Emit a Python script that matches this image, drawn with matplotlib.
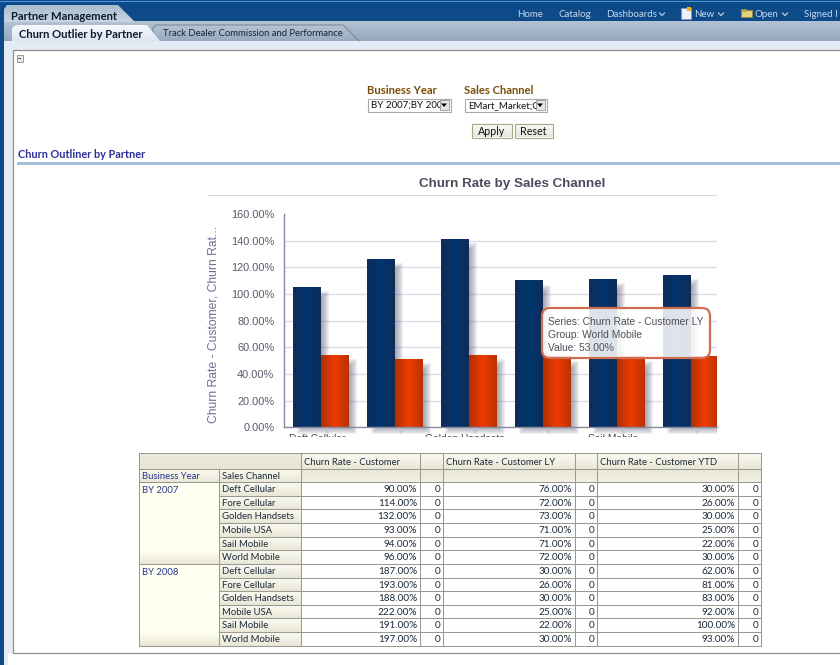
import numpy as np
import matplotlib
matplotlib.use("Agg")
import matplotlib.pyplot as plt
from matplotlib.patches import Rectangle, FancyBboxPatch, Polygon
from matplotlib.transforms import Bbox
from matplotlib.colors import LinearSegmentedColormap

# ---------- data ----------
channels = ["Deft Cellular", "Fore Cellular", "Golden Handsets", "Mobile USA", "Sail Mobile", "World Mobile"]
chart_customer = [105.0, 126.0, 141.0, 110.0, 111.0, 114.0]
chart_customer_ly = [54.0, 51.0, 54.0, 53.0, 53.0, 53.0]
y_ticks = [0, 20, 40, 60, 80, 100, 120, 140, 160]
shown_channels = ["Deft Cellular", "Golden Handsets", "Sail Mobile"]

years = ["BY 2007", "BY 2008"]
table_customer = [90, 114, 132, 93, 94, 96, 187, 193, 188, 222, 191, 197]
table_ly = [76, 72, 73, 71, 71, 72, 30, 26, 30, 25, 22, 30]
table_ytd = [30, 26, 30, 25, 22, 30, 62, 81, 83, 92, 100, 93]
measure_names = ["Churn Rate - Customer", "Churn Rate - Customer LY", "Churn Rate - Customer YTD"]
nav_items = ["Home", "Catalog", "Dashboards", "New", "Open", "Signed I"]

W, H = 840, 665
UI = "Lato"
ARIAL = "Liberation Sans"
def pt(px): return px * 72 / 100

fig = plt.figure(figsize=(W / 100, H / 100), dpi=100, facecolor="white")

# ---------- page chrome, pixel coordinates ----------
bg = fig.add_axes([0, 0, 1, 1], zorder=0)
bg.set_xlim(0, W); bg.set_ylim(H, 0); bg.axis("off")

def vgrad(ax, x0, y0, x1, y1, c0, c1, z=1, clip=None):
    cm = LinearSegmentedColormap.from_list("g", [c0, c1])
    im = ax.imshow(np.linspace(0, 1, 32)[:, None], extent=[x0, x1, y1, y0], cmap=cm,
                   aspect="auto", zorder=z, vmin=0, vmax=1, interpolation="bilinear")
    if clip is not None:
        im.set_clip_path(clip)
    return im

def rect(ax, x0, y0, x1, y1, fc, ec="none", lw=0, z=1):
    r = Rectangle((x0, y0), x1 - x0, y1 - y0, fc=fc, ec=ec, lw=lw, zorder=z)
    ax.add_patch(r)
    return r

rect(bg, 0, 0, W, 22, "#0d4a87")
rect(bg, 0, 1, W, 2.2, "#4f93dc", z=1.1)
rect(bg, 0, 22, 4, H, "#0d4a87")
rect(bg, 4, 41, W, H, "#e3ebf5")
vgrad(bg, 0, 21, W, 41, "#b3c3d4", "#97a8bf")
rect(bg, 0, 21, 4, 41, "#0d4a87", z=1.2)
rect(bg, 8, 653, W, H, "white", z=1.1)

# top tab
p = Polygon([(4, 22), (4, 9), (7, 5), (118, 5), (135, 22)], closed=True, fc="none", ec="none", zorder=2)
bg.add_patch(p)
vgrad(bg, 4, 5, 135, 22, "#a8bccf", "#c8d6e2", z=2, clip=p)
bg.text(11, 16.5, "Partner Management", fontsize=pt(11.3), family=UI, weight="bold", color="#0c1c2c", va="center", zorder=3)

# second row tabs
p2 = Polygon([(153, 41), (153, 28), (156, 25), (343, 25), (359, 41)], closed=True, fc="none", ec="none", zorder=2)
bg.add_patch(p2)
vgrad(bg, 153, 25, 359, 41, "#b6c4d4", "#98a9c0", z=2, clip=p2)
bg.plot([153, 153, 156, 343, 359], [41, 28, 25, 25, 41], color="#6c7a8c", lw=0.6, zorder=2.5)
bg.text(163, 34, "Track Dealer Commission and Performance", fontsize=pt(9.45), family=UI, color="#16253a", va="center", zorder=3)
p1 = Polygon([(12, 41), (12, 28), (16, 25), (147, 25), (160, 41)], closed=True, fc="none", ec="none", zorder=2)
bg.add_patch(p1)
vgrad(bg, 12, 25, 160, 41, "#f6f9fc", "#dce6f1", z=2.6, clip=p1)
bg.text(19, 34, "Churn Outlier by Partner", fontsize=pt(11.3), family=UI, weight="bold", color="#0c1c2c", va="center", zorder=3)

# nav items
nav_x = [517.5, 558.5, 606.5, 694.5, 754.5, 803.5]
for name, x in zip(nav_items, nav_x):
    bg.text(x, 14.5, name, fontsize=pt(9.8), family=UI, color="#c4d8ee", va="center", zorder=3)
for x in [551.5, 599.5, 673.5, 733.5, 796.5]:
    rect(bg, x, 8 if x == 673.5 else 18, x + 0.8, 21, "#9bb6d2", z=2)
for x in [662, 721, 785]:
    bg.plot([x - 2.5, x, x + 2.5], [13, 15.5, 13], color="#b4cce4", lw=0.9, zorder=3)
rect(bg, 681, 8, 691, 19, "#eef0fa", ec="#8b93b8", lw=0.6, z=3)
rect(bg, 687, 7, 691, 11, "#f0b020", z=3.1)
rect(bg, 741, 10, 752, 17, "#e4d27a", ec="#9a8a3c", lw=0.6, z=3)
rect(bg, 741, 8.5, 746, 10.5, "#d0bb5c", ec="#9a8a3c", lw=0.5, z=3)

# content panel
rect(bg, 12.5, 49.5, W + 5, 652.5, "white", ec="#8f8f88", lw=0.9, z=1.5)
rect(bg, 16.5, 55, 22.5, 61.5, "#e8e8e8", ec="#999999", lw=0.7, z=2)
rect(bg, 18, 57.7, 21, 58.7, "#555555", z=2.1)

# prompts
PROMPT = "#7a4e05"
bg.text(367, 90, "Business Year", fontsize=pt(11.3), family=UI, weight="bold", color=PROMPT, va="center", zorder=3)
bg.text(464, 90, "Sales Channel", fontsize=pt(11.3), family=UI, weight="bold", color=PROMPT, va="center", zorder=3)
for x0, x1, txt in [(367.5, 450.5, "BY 2007;BY 200"), (464.5, 546.5, "EMart_Market;C")]:
    rect(bg, x0, 98.5, x1, 111.5, "white", ec="#aaaaaa", lw=0.8, z=2)
    t = bg.text(x0 + 3.5, 105.5, txt, fontsize=pt(9.8), family=UI, color="#111111", va="center", zorder=3)
    t.set_clip_path(rect(bg, x0, 98.5, x1 - 11.5, 111.5, "none", z=2))
    rect(bg, x1 - 11, 100, x1 - 1.5, 110, "#e4e4e0", ec="#888888", lw=0.5, z=3)
    bg.add_patch(Polygon([(x1 - 9.5, 103.5), (x1 - 3.5, 103.5), (x1 - 6.5, 107)], closed=True, fc="black", ec="none", zorder=3.1))
for x0, x1, txt in [(471.5, 511.5, "Apply"), (514.5, 552.5, "Reset")]:
    rect(bg, x0, 123.5, x1, 137.5, "none", ec="#a8a888", lw=0.8, z=3)
    vgrad(bg, x0, 123.5, x1, 137.5, "#fdfdfa", "#e6e6e0", z=2.5)
    bg.text((x0 + x1) / 2, 131.5, txt, fontsize=pt(10.6), family=UI, color="#111111", ha="center", va="center", zorder=3.2)

bg.text(18, 155, "Churn Outliner by Partner", fontsize=pt(11), family=UI, weight="bold", color="#2b2f96", va="center", zorder=3)
rect(bg, 17, 162, W, 165, "#a4bfd9", z=2)

# chart title
bg.text(512, 184, "Churn Rate by Sales Channel", fontsize=pt(13.4), family=ARIAL, weight="bold", color="#4a4c5c", ha="center", va="center", zorder=3)
rect(bg, 208, 194.5, 717, 195.7, "#d8d8e2", z=2)

# ---------- chart ----------
AX_L, AX_R, AX_T, AX_B = 284, 717, 214, 427.3
ax = fig.add_axes([AX_L / W, 1 - AX_B / H, (AX_R - AX_L) / W, (AX_B - AX_T) / H], zorder=2)
ax.patch.set_alpha(0)
CAT_PX = 74.0
ax.set_xlim(-0.5, -0.5 + (AX_R - AX_L) / CAT_PX)
ax.set_ylim(0, 160)
px_x = 1 / CAT_PX
px_y = 160 / (AX_B - AX_T)
xs = np.arange(len(channels))
bw = 0.378
clip_bb = Bbox([[AX_L, H - 436], [AX_R, H - AX_T]])

blue_cm = LinearSegmentedColormap.from_list("b", ["#0f2c58", "#00356f", "#0f2c58"])
red_cm = LinearSegmentedColormap.from_list("r", ["#b03000", "#ef3b00", "#b83200"])

def add_shadow(xc, v):
    for k in range(8):
        r = Rectangle((xc - bw / 2 + (4 + k) * px_x, (-7 + k) * px_y),
                      bw + (4 - 2 * k) * px_x, v + (1 - 2 * k + 2) * px_y,
                      fc="#5a5a78", ec="none", alpha=0.085, zorder=2, clip_on=True)
        ax.add_patch(r)
        r.set_clip_box(clip_bb)

def add_bars(positions, vals, cm):
    bars = ax.bar(positions, vals, width=bw, color="none", zorder=3)
    for b in bars:
        x0, w, h = b.get_x(), b.get_width(), b.get_height()
        im = ax.imshow(np.linspace(0, 1, 64)[None, :], extent=[x0, x0 + w, 0, h], cmap=cm,
                       aspect="auto", zorder=3, interpolation="bilinear", vmin=0, vmax=1)
        im.set_clip_box(ax.bbox)

for x, a, b in zip(xs, chart_customer, chart_customer_ly):
    add_shadow(x - bw / 2, a)
    add_shadow(x + bw / 2, b)
add_bars(xs - bw / 2, chart_customer, blue_cm)
add_bars(xs + bw / 2, chart_customer_ly, red_cm)

ax.set_xlim(-0.5, -0.5 + (AX_R - AX_L) / CAT_PX)
ax.set_ylim(0, 160)
ax.set_yticks(y_ticks)
ax.set_yticklabels([f"{v:.2f}%" for v in y_ticks], fontsize=pt(11.0), family=ARIAL, color="#5a5a6c")
ax.grid(axis="y", color="#dcdce6", lw=1.0, zorder=1)
ax.yaxis.get_gridlines()[-1].set_visible(False)
ax.set_axisbelow(True)
ax.tick_params(axis="both", length=0, pad=7)
for s in ["top", "right"]:
    ax.spines[s].set_visible(False)
for s in ["left", "bottom"]:
    ax.spines[s].set_color("#8a8aa0")
    ax.spines[s].set_linewidth(1.0)
    ax.spines[s].set_zorder(4)
ax.set_xticks(xs - 4 * px_x)
ax.set_xticklabels([c if c in shown_channels else "" for c in channels], fontsize=pt(10.3), family=ARIAL, color="#4a4a55")
ax.tick_params(axis="x", pad=5)
label_clip = Bbox([[0, H - 437], [W, H]])
for t in ax.get_xticklabels():
    t.set_clip_box(label_clip)
    t.set_clip_on(True)
bg.text(213, 324, "Churn Rate - Customer, Churn Rat...", rotation=90, fontsize=pt(12.1), family=ARIAL,
        color="#6d6f99", ha="center", va="center", zorder=3)

# tooltip
top = fig.add_axes([0, 0, 1, 1], zorder=3)
top.set_xlim(0, W); top.set_ylim(H, 0); top.axis("off"); top.patch.set_alpha(0)
top.add_patch(FancyBboxPatch((546, 312), 160, 42, boxstyle="round,pad=4,rounding_size=8",
                             fc=(1, 1, 1, 0.87), ec="#cf6d52", lw=1.6))
tip = [f"Series: {measure_names[1]}", f"Group: {channels[-1]}", f"Value: {chart_customer_ly[-1]:.2f}%"]
for yy, s in zip([322, 335, 348], tip):
    top.text(548, yy, s, fontsize=pt(10.3), family=ARIAL, color="#50505a", va="center")

# ---------- table, pixel coordinates ----------
cols = [139, 219, 301, 420, 443, 575, 597, 738, 761]
rows = [453, 469, 482, 496, 509, 523, 537, 550, 564, 578, 591, 605, 618, 632, 646]
GRID = "#9a9a92"
TXT = "#1c2a3a"
TS = pt(9.5)
NS = pt(10.0)
HEAD0, HEAD1 = "#fbfaf2", "#e9e7d6"
DY = 0.8

# backgrounds
vgrad(bg, cols[0], rows[0], cols[2], rows[1], "#eceadb", "#e8e6d6", z=1.6)
for a, b in zip(cols[2:-1], cols[3:]):
    vgrad(bg, a, rows[0], b, rows[1], HEAD0, HEAD1, z=1.6)
    vgrad(bg, a, rows[1], b, rows[2], HEAD1, "#f1f0e3", z=1.6)
vgrad(bg, cols[0], rows[1], cols[2], rows[2], HEAD0, HEAD1, z=1.6)
for ri in (2, 8):
    vgrad(bg, cols[0], rows[ri], cols[1], rows[ri + 6] - 13, "#fffff1", "#fffff1", z=1.6)
    vgrad(bg, cols[0], rows[ri + 6] - 13, cols[1], rows[ri + 6], "#fffff1", "#e8e6d6", z=1.6)
for r in range(2, 14):
    vgrad(bg, cols[1], rows[r], cols[2], rows[r + 1], HEAD0, HEAD1, z=1.6)

# grid
for i, y in enumerate(rows):
    x_start = cols[0] if i in (0, 1, 2, 8, 14) else cols[1]
    bg.plot([x_start, cols[-1]], [y, y], color=GRID, lw=0.75, zorder=1.8, solid_capstyle="projecting")
bg.plot([cols[0], cols[0]], [rows[0], rows[-1]], color=GRID, lw=0.75, zorder=1.8)
bg.plot([cols[1], cols[1]], [rows[1], rows[-1]], color=GRID, lw=0.75, zorder=1.8)
for x in cols[2:]:
    bg.plot([x, x], [rows[0], rows[-1]], color=GRID, lw=0.75, zorder=1.8)

# header text
for name, cx in zip(measure_names, [cols[2], cols[4], cols[6]]):
    bg.text(cx + 3, 461.5 + DY, name, fontsize=TS, family=UI, color=TXT, va="center", zorder=3)
bg.text(142, 476 + DY, "Business Year", fontsize=TS, family=UI, color="#27358f", va="center", zorder=3)
bg.text(222, 476 + DY, "Sales Channel", fontsize=TS, family=UI, color=TXT, va="center", zorder=3)
bg.text(142, 489.5 + DY, years[0], fontsize=TS, family=UI, color="#27358f", va="center", zorder=3)
bg.text(142, 571.5 + DY, years[1], fontsize=TS, family=UI, color="#27358f", va="center", zorder=3)

# body text
for i in range(12):
    yc = (rows[i + 2] + rows[i + 3]) / 2 + DY
    bg.text(222, yc, channels[i % 6], fontsize=TS, family=UI, color=TXT, va="center", zorder=3)
    for vals, right, zero in [(table_customer, cols[3], cols[4]), (table_ly, cols[5], cols[6]), (table_ytd, cols[7], cols[8])]:
        bg.text(right - 3, yc, f"{vals[i]:.2f}%", fontsize=NS, family=UI, color=TXT, ha="right", va="center", zorder=3)
        bg.text(zero - 2.5, yc, "0", fontsize=NS, family=UI, color=TXT, ha="right", va="center", zorder=3)

bg.set_xlim(0, W); bg.set_ylim(H, 0)
fig.savefig("out.png", dpi=100, facecolor="white")
